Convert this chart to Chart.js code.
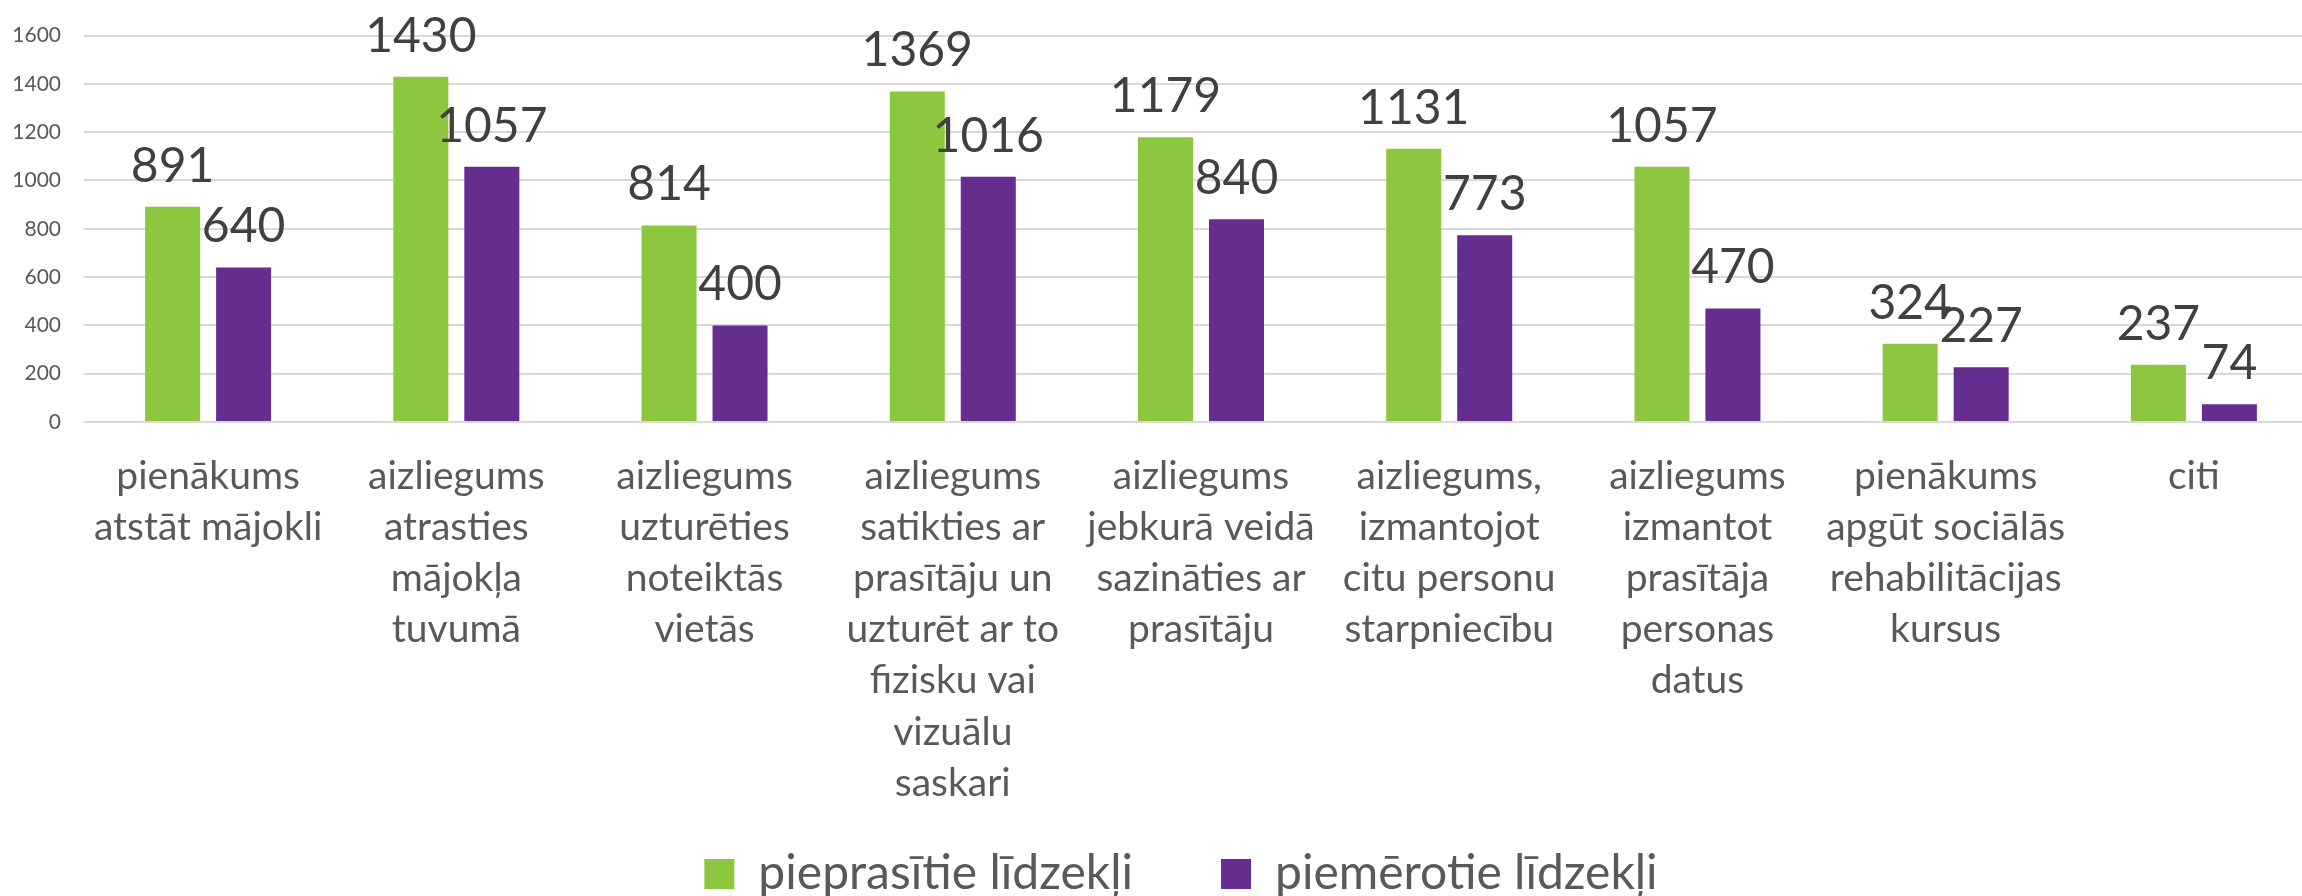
<!DOCTYPE html>
<html>
<head>
<meta charset="utf-8">
<script src="https://cdn.jsdelivr.net/npm/chart.js@4"></script>
<style>
  html, body { margin: 0; padding: 0; background: #fff; }
  #wrap { width: 2302px; height: 896px; position: relative; }
</style>
</head>
<body>
<div id="wrap"><canvas id="myChart"></canvas></div>
<script>
// ===== data =====
const categories = [
  ['pienākums', 'atstāt mājokli'],
  ['aizliegums', 'atrasties', 'mājokļa', 'tuvumā'],
  ['aizliegums', 'uzturēties', 'noteiktās', 'vietās'],
  ['aizliegums', 'satikties ar', 'prasītāju un', 'uzturēt ar to', 'fizisku vai', 'vizuālu', 'saskari'],
  ['aizliegums', 'jebkurā veidā', 'sazināties ar', 'prasītāju'],
  ['aizliegums,', 'izmantojot', 'citu personu', 'starpniecību'],
  ['aizliegums', 'izmantot', 'prasītāja', 'personas', 'datus'],
  ['pienākums', 'apgūt sociālās', 'rehabilitācijas', 'kursus'],
  ['citi'],
];
const requested = [891, 1430, 814, 1369, 1179, 1131, 1057, 324, 237];
const applied = [640, 1057, 400, 1016, 840, 773, 470, 227, 74];
const seriesNames = ['pieprasītie līdzekļi', 'piemērotie līdzekļi'];
const yMax = 1600;
const yStep = 200;

const GREEN = 'rgb(141, 198, 63)';
const PURPLE = 'rgb(102, 45, 145)';
const FONT = 'Lato';

// plot area runs a bit past the right edge in the original
const PLOT_RIGHT = 2318;
const LEGEND_SHIFT_X = 30;
const LEGEND_SHIFT_Y = -45;

// value labels above bars
const valueLabels = {
  id: 'valueLabels',
  afterDatasetsDraw(chart) {
    const ctx = chart.ctx;
    ctx.save();
    ctx.font = `48px ${FONT}`;
    ctx.fillStyle = '#404040';
    ctx.textAlign = 'center';
    ctx.textBaseline = 'alphabetic';
    chart.data.datasets.forEach((ds, i) => {
      chart.getDatasetMeta(i).data.forEach((bar, j) => {
        ctx.fillText(String(ds.data[j]), bar.x, bar.y - 25);
      });
    });
    ctx.restore();
  }
};

// stretch x scale past the canvas edge, nudge legend
const tweakLayout = {
  id: 'tweakLayout',
  afterLayout(chart) {
    const x = chart.scales.x;
    x.right = PLOT_RIGHT;
    x.width = PLOT_RIGHT - x.left;
    chart.chartArea.right = PLOT_RIGHT;
    chart.chartArea.width = PLOT_RIGHT - chart.chartArea.left;
    x.configure();
    const lg = chart.legend;
    lg.left += LEGEND_SHIFT_X;
    lg.right += LEGEND_SHIFT_X;
    lg.top += LEGEND_SHIFT_Y;
    lg.bottom += LEGEND_SHIFT_Y;
  }
};

const data = {
  labels: categories,
  datasets: [
    {
      label: seriesNames[0],
      data: requested,
      backgroundColor: GREEN,
      categoryPercentage: 0.572,
      barPercentage: 0.775,
    },
    {
      label: seriesNames[1],
      data: applied,
      backgroundColor: PURPLE,
      categoryPercentage: 0.572,
      barPercentage: 0.775,
    },
  ],
};

const config = {
  type: 'bar',
  data,
  plugins: [valueLabels, tweakLayout],
  options: {
    responsive: true,
    maintainAspectRatio: false,
    animation: false,
    layout: { padding: { left: 0, top: 23, right: 0, bottom: -57 } },
    plugins: {
      tooltip: { enabled: false },
      legend: {
        position: 'bottom',
        labels: {
          boxWidth: 30,
          boxHeight: 30,
          padding: 88,
          color: '#595959',
          font: { family: FONT, size: 48 },
        },
      },
    },
    scales: {
      x: {
        grid: { display: false },
        border: { display: false },
        ticks: {
          autoSkip: false,
          maxRotation: 0,
          padding: 21,
          color: '#595959',
          font: { family: FONT, size: 39, lineHeight: 1.31 },
        },
        afterFit(scale) { scale.height = 385; },
      },
      y: {
        min: 0,
        max: yMax,
        grid: { color: '#d9d9d9', lineWidth: 2, drawTicks: false },
        border: { display: false },
        ticks: {
          stepSize: yStep,
          padding: 23,
          color: '#595959',
          font: { family: FONT, size: 21 },
          callback: v => String(v),
        },
        afterFit(scale) { scale.width = 84; },
      },
    },
  },
};

new Chart(document.getElementById('myChart'), config);
</script>
</body>
</html>
